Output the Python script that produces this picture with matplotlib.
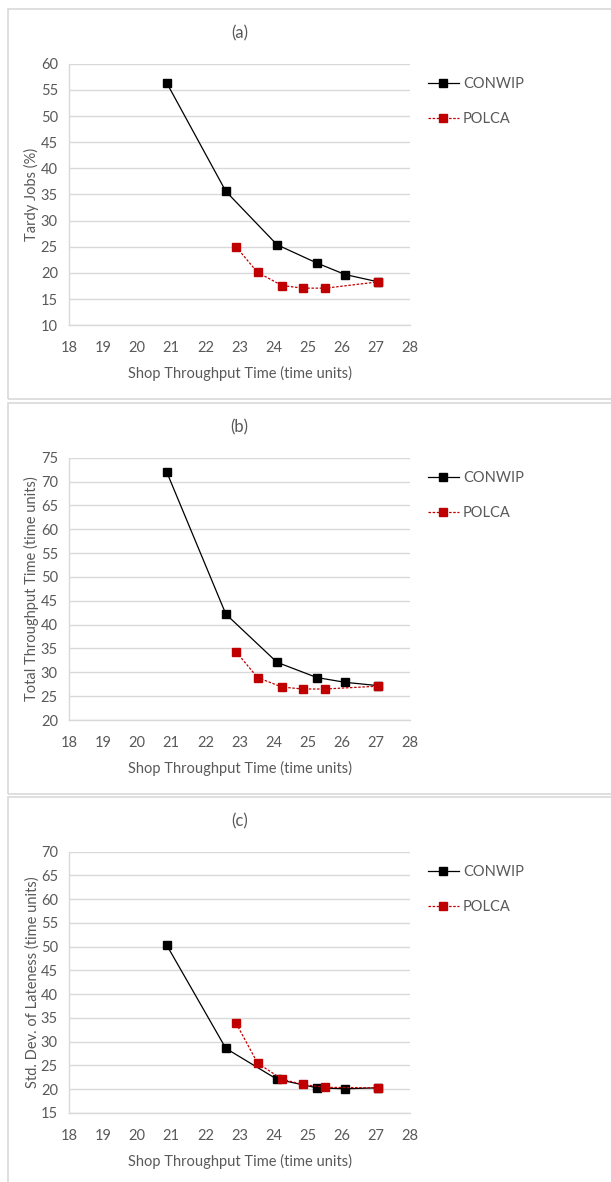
import matplotlib
matplotlib.use("Agg")
import matplotlib.pyplot as plt
from matplotlib.patches import Rectangle

plt.rcParams['font.family'] = ['Lato', 'DejaVu Sans']

# Shop throughput time (x) shared by all panels
conwip_x = [20.86, 22.60, 24.10, 25.27, 26.10, 27.07]
polca_x = [22.90, 23.53, 24.25, 24.86, 25.52, 27.07]

# (a) Tardy jobs (%)
conwip_tardy = [56.4, 35.6, 25.4, 21.9, 19.7, 18.3]
polca_tardy = [25.0, 20.1, 17.6, 17.1, 17.1, 18.3]

# (b) Total throughput time
conwip_ttt = [72.1, 42.2, 32.1, 28.9, 27.9, 27.2]
polca_ttt = [34.3, 28.9, 26.9, 26.5, 26.5, 27.1]

# (c) Std. dev. of lateness
conwip_sd = [50.4, 28.6, 22.1, 20.3, 20.1, 20.3]
polca_sd = [33.9, 25.5, 22.1, 21.0, 20.4, 20.3]

x_ticks = list(range(18, 29))
panels = [
    dict(title="(a)", ylabel="Tardy Jobs (%)", ylim=(10, 60),
         c=conwip_tardy, p=polca_tardy),
    dict(title="(b)", ylabel="Total Throughput Time (time units)", ylim=(20, 75),
         c=conwip_ttt, p=polca_ttt),
    dict(title="(c)", ylabel="Std. Dev. of Lateness (time units)", ylim=(15, 70),
         c=conwip_sd, p=polca_sd),
]

W, H = 611, 1182
fig = plt.figure(figsize=(W / 100, H / 100), dpi=100)

TXT = "#595959"
GRID = "#d9d9d9"
RED = "#c00000"
FS = 10.5

# pixel geometry of each chart: (box_top, box_bottom, axes_top, axes_bottom)
geom = [(9, 399, 63.7, 325.3), (403, 794, 457.7, 720.0), (797, 1195, 851.7, 1113.0)]
ax_left, ax_right = 69, 410

for pan, (bt, bb, at, ab) in zip(panels, geom):
    fig.patches.append(Rectangle((8 / W, 1 - bb / H), 700 / W, (bb - bt) / H,
                                 transform=fig.transFigure, fill=False,
                                 edgecolor=GRID, linewidth=1.2, zorder=0))
    ax = fig.add_axes([ax_left / W, 1 - ab / H, (ax_right - ax_left) / W, (ab - at) / H])
    ax.plot(conwip_x, pan["c"], color="black", lw=0.9, marker="s", ms=5.4,
            label="CONWIP", zorder=3)
    ax.plot(polca_x, pan["p"], color=RED, lw=0.9, ls=(0, (2, 1.3)), marker="s",
            ms=5.4, label="POLCA", zorder=4)
    ax.set_xlim(18, 28)
    ax.set_ylim(*pan["ylim"])
    ax.set_xticks(x_ticks)
    ax.set_yticks(range(pan["ylim"][0], pan["ylim"][1] + 1, 5))
    ax.grid(axis="y", color=GRID, lw=1.0)
    ax.set_axisbelow(True)
    for s in ("top", "right"):
        ax.spines[s].set_visible(False)
    for s in ("left", "bottom"):
        ax.spines[s].set_color(GRID)
        ax.spines[s].set_linewidth(1.0)
    ax.tick_params(length=0, labelsize=FS, labelcolor=TXT)
    ax.tick_params(axis="x", pad=11.5)
    ax.tick_params(axis="y", pad=8)
    ax.set_xlabel("Shop Throughput Time (time units)", fontsize=FS, color=TXT, labelpad=8)
    ax.set_ylabel(pan["ylabel"], fontsize=FS, color=TXT, labelpad=1)
    ax.set_title(pan["title"], fontsize=12, color=TXT, pad=18)
    leg = ax.legend(loc="upper left", bbox_to_anchor=(428 / W, 1 - (at + 13) / H),
                    bbox_transform=fig.transFigure, frameon=False, fontsize=FS,
                    handlelength=2.1, handletextpad=0.3, labelspacing=1.45,
                    borderpad=0, borderaxespad=0)
    for t in leg.get_texts():
        t.set_color(TXT)

fig.savefig("out.png", dpi=100)
